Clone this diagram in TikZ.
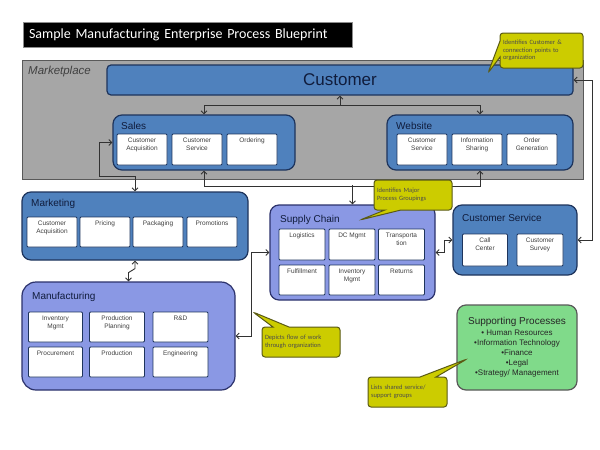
\documentclass[tikz,border=0pt]{standalone}
\usepackage{fontspec}
\setmainfont{Liberation Sans}
\newfontfamily\calibri{Carlito}
\usepackage{tikz}
\usetikzlibrary{arrows.meta, shapes.callouts}
\usepackage{xcolor}
\definecolor{mktgrey}{RGB}{166,166,166}
\definecolor{procblue}{RGB}{79,129,189}
\definecolor{procedge}{RGB}{30,52,92}
\definecolor{chainblue}{RGB}{138,152,228}
\definecolor{chainedge}{RGB}{44,50,108}
\definecolor{supgreen}{RGB}{128,218,138}
\definecolor{noteyellow}{RGB}{204,204,0}
\definecolor{noteedge}{RGB}{90,90,20}
\definecolor{navy}{RGB}{16,28,60}
\definecolor{flowgrey}{RGB}{50,50,50}

\begin{document}
\begin{tikzpicture}[x=1pt, y=-1pt,
  >={Straight Barb[length=3pt,width=6pt]},
  grp/.style={draw=procedge, line width=1.2pt, fill=procblue, rounded corners=9pt, inner sep=0pt},
  chain/.style={grp, draw=chainedge, fill=chainblue},
  gtitle/.style={anchor=west, font=\fontsize{10}{12}\selectfont, text=navy, inner sep=0pt},
  ibox/.style={draw=procedge, line width=0.9pt, fill=white, rounded corners=1pt, minimum width=50pt, minimum height=31pt, inner sep=0pt},
  itext/.style={anchor=north, align=center, font=\fontsize{6.5}{7.8}\selectfont, text=black!75, inner sep=0pt, yshift=-4pt},
  note/.style={rectangle callout, draw=noteedge, line width=1pt, fill=noteyellow, rounded corners=3pt, callout pointer width=16pt, font=\calibri\fontsize{6.5}{7.8}\selectfont, align=left, text=black!70, inner sep=3pt},
  flow/.style={draw=flowgrey, line width=0.9pt}]
  \useasboundingbox (0,0) rectangle (600,450);
  \fill[white] (0,0) rectangle (600,450);

  % title
  \node[fill=black, draw=black!45, line width=0.8pt, text=white, text width=321pt, inner xsep=4pt, minimum height=25pt, align=left, font=\calibri\fontsize{14}{17}\selectfont] (title) at (187.5,34.5) {\hspace*{2pt}Sample Manufacturing Enterprise Process Blueprint};

  % marketplace
  \node[draw=black!65, line width=1pt, fill=mktgrey, minimum width=561pt, minimum height=119pt, inner sep=0pt] (market) at (302.5,119.5) {};
  \node[anchor=west, font=\itshape\fontsize{11.5}{13}\selectfont, text=black!75, inner sep=0pt] (markettxt) at (28,72) {Marketplace};
  \node[grp, rounded corners=4pt, minimum width=466pt, minimum height=30pt, font=\fontsize{17}{20}\selectfont, text=navy] (customer) at (340,80) {Customer};

  % sales
  \node[grp, minimum width=182pt, minimum height=55pt] (sales) at (204,142.5) {};
  \node[gtitle] (salestxt) at (121,126) {Sales};
  \node[ibox, label={[itext]north:Customer\\Acquisition}] (salesAcq) at (142,149.5) {};
  \node[ibox, label={[itext]north:Customer\\Service}] (salesSvc) at (197,149.5) {};
  \node[ibox, label={[itext]north:Ordering}] (salesOrd) at (252,149.5) {};

  % website
  \node[grp, minimum width=186pt, minimum height=55pt] (website) at (480,142.5) {};
  \node[gtitle] (webtxt) at (396,126) {Website};
  \node[ibox, label={[itext]north:Customer\\Service}] (webSvc) at (422,149.5) {};
  \node[ibox, label={[itext]north:Information\\Sharing}] (webInfo) at (477,149.5) {};
  \node[ibox, label={[itext]north:Order\\Generation}] (webOrd) at (532,149.5) {};

  % marketing
  \node[grp, minimum width=226pt, minimum height=68pt] (marketing) at (135,226) {};
  \node[gtitle] (mkttxt) at (31,204) {Marketing};
  \node[ibox, minimum height=30pt, label={[itext]north:Customer\\Acquisition}] (mktAcq) at (52,232) {};
  \node[ibox, minimum height=30pt, label={[itext]north:Pricing}] (mktPrice) at (105,232) {};
  \node[ibox, minimum height=30pt, label={[itext]north:Packaging}] (mktPack) at (158,232) {};
  \node[ibox, minimum height=30pt, label={[itext]north:Promotions}] (mktPromo) at (212,232) {};

  % manufacturing
  \node[chain, rounded corners=14pt, minimum width=213pt, minimum height=108pt] (manufacturing) at (128.5,336) {};
  \node[gtitle] (mfgtxt) at (32,297) {Manufacturing};
  \node[ibox, minimum width=54pt, minimum height=30pt, label={[itext]north:Inventory\\Mgmt}] (mfgInv) at (55.5,327) {};
  \node[ibox, minimum width=55pt, minimum height=30pt, label={[itext]north:Production\\Planning}] (mfgPlan) at (117,327) {};
  \node[ibox, minimum width=55pt, minimum height=30pt, label={[itext]north:R\&D}] (mfgRD) at (180.5,327) {};
  \node[ibox, minimum width=54pt, minimum height=30pt, label={[itext]north:Procurement}] (mfgProc) at (55.5,362) {};
  \node[ibox, minimum width=55pt, minimum height=30pt, label={[itext]north:Production}] (mfgProd) at (117,362) {};
  \node[ibox, minimum width=55pt, minimum height=30pt, label={[itext]north:Engineering}] (mfgEng) at (180.5,362) {};

  % supply chain
  \node[chain, minimum width=165pt, minimum height=95pt] (supply) at (352.5,252.5) {};
  \node[gtitle] (supplytxt) at (280,220) {Supply Chain};
  \node[ibox, minimum width=46pt, label={[itext]north:Logistics}] (supLog) at (302,244.5) {};
  \node[ibox, minimum width=46pt, label={[itext]north:DC Mgmt}] (supDC) at (352,244.5) {};
  \node[ibox, minimum width=46pt, label={[itext]north:Transporta\\tion}] (supTrans) at (401.5,244.5) {};
  \node[ibox, minimum width=46pt, minimum height=30pt, label={[itext]north:Fulfillment}] (supFul) at (302,280) {};
  \node[ibox, minimum width=46pt, minimum height=30pt, label={[itext]north:Inventory\\Mgmt}] (supInv) at (352,280) {};
  \node[ibox, minimum width=46pt, minimum height=30pt, label={[itext]north:Returns}] (supRet) at (401.5,280) {};

  % customer service
  \node[grp, minimum width=124pt, minimum height=70pt] (custserv) at (515,240) {};
  \node[gtitle] (cstxt) at (462,218) {Customer Service};
  \node[ibox, minimum width=45pt, minimum height=32pt, label={[itext]north:Call\\Center}] (csCall) at (485,250) {};
  \node[ibox, minimum width=46pt, minimum height=32pt, label={[itext]north:Customer\\Survey}] (csSurvey) at (540,250) {};

  % supporting processes
  \node[grp, fill=supgreen, draw=black!65, minimum width=120pt, minimum height=85pt, align=center, text=black!85, font=\fontsize{8}{10}\selectfont] (support) at (517,347.5) {{\fontsize{10}{12}\selectfont Supporting Processes}\\[1pt]• Human Resources\\•Information Technology\\•Finance\\•Legal\\•Strategy/ Management};

  % flows
  \draw[flow,<-] (customer.south) -- ++(0,10) coordinate (hub);
  \draw[flow,->] (hub) -| (sales.north);
  \draw[flow,->] (hub) -| (website.north);
  \draw[flow,<->] (sales.south) -- ++(0,16) -| (website.south);
  \draw[flow,<-] (supply.north) -- ++(0,-19);
  \draw[flow,<->] (sales.west) -- ++(-13,0) coordinate (bend) -- (bend |- 0,176) -| (marketing.north);
  \draw[flow,<->] (marketing.south) -- ++(0,8) -- ++(-6.5,4) -- (manufacturing.north);
  \draw[flow,<->] (supply.west) -- ++(-18,0) |- (manufacturing.east);
  \draw[flow,<->] (supply.east) -- ++(9,0) |- (custserv.west);
  \draw[flow,<->] (customer.east) -- ++(19,0) |- (custserv.east);

  % notes
  \node[note, text width=77pt, minimum height=35pt, callout absolute pointer={(488,73)}] (noteCust) at (541.5,50.5) {Identifies Customer \&\\connection points to\\organization};
  \node[note, text width=72pt, minimum height=30pt, callout absolute pointer={(360,220)}] (noteGroups) at (413,195) {Identifies Major\\Process Groupings};
  \node[note, text width=72pt, minimum height=30pt, callout absolute pointer={(253,312)}] (noteFlow) at (301,342) {Depicts flow of work\\through organization};
  \node[note, text width=73pt, minimum height=30pt, callout absolute pointer={(467,359)}] (noteSupport) at (407.5,392) {Lists shared service/\\support groups};
\end{tikzpicture}
\end{document}
